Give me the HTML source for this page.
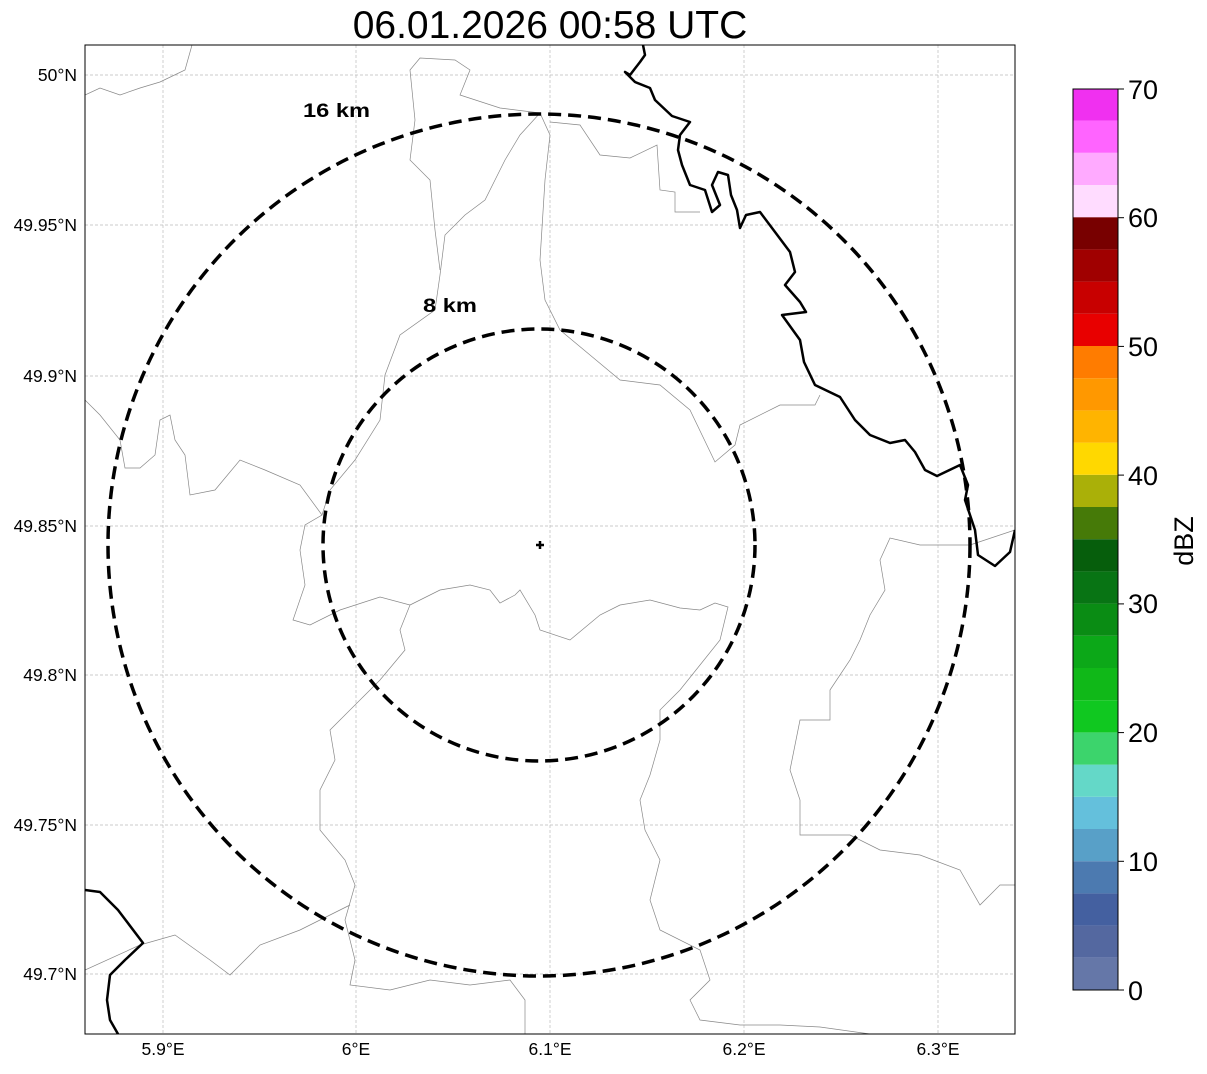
<!DOCTYPE html>
<html><head><meta charset="utf-8"><style>
body{margin:0;background:#fff;width:1207px;height:1069px;overflow:hidden;font-family:"Liberation Sans",sans-serif}
</style></head><body>
<svg width="1207" height="1069" xmlns="http://www.w3.org/2000/svg" font-family="Liberation Sans, sans-serif">
<text x="550" y="38" font-size="39" text-anchor="middle">06.01.2026 00:58 UTC</text>
<defs><clipPath id="c"><rect x="85" y="45" width="930" height="989"/></clipPath></defs>
<g stroke="#bbb" stroke-width="0.7" stroke-dasharray="3,2">
<line x1="163" y1="45" x2="163" y2="1034"/><line x1="356" y1="45" x2="356" y2="1034"/><line x1="550" y1="45" x2="550" y2="1034"/><line x1="744" y1="45" x2="744" y2="1034"/><line x1="938" y1="45" x2="938" y2="1034"/>
<line x1="85" y1="75" x2="1015" y2="75"/><line x1="85" y1="225" x2="1015" y2="225"/><line x1="85" y1="376" x2="1015" y2="376"/><line x1="85" y1="526" x2="1015" y2="526"/><line x1="85" y1="675" x2="1015" y2="675"/><line x1="85" y1="825" x2="1015" y2="825"/><line x1="85" y1="974" x2="1015" y2="974"/>
</g>
<g clip-path="url(#c)" fill="none">
<g stroke="#888" stroke-width="0.7">
<polyline points="85,95 100,88 120,95 140,88 160,82 185,70 192,45"/>
<polyline points="85,400 100,415 120,440 125,468 140,468 155,455 160,420 170,415 175,440 185,455 190,495 215,490 240,460 265,470 300,485 322,515 305,525 300,550 305,585 293,620 310,625 340,610 380,597 410,605 400,630 405,650 380,680 345,715 330,730 335,760 320,790 320,830 345,860 355,885 345,920 355,960 350,985 390,990 430,980 470,985 510,980 525,1000 525,1034"/>
<polyline points="410,605 440,590 470,585 490,590 500,603 515,595 520,590 535,615 540,630 570,640 600,615 620,605 650,600 680,608 700,610 715,603 728,607 720,640 700,665 680,690 660,710 660,740 650,775 640,800 645,830 660,860 650,900 660,930 700,950 710,980 690,1000 700,1020 740,1025 780,1025 820,1027 870,1034"/>
<polyline points="540,113 550,135 545,180 540,260 545,300 560,330 590,355 620,380 660,385 690,410 715,462 735,445 740,425 780,405 815,405 820,395"/>
<polyline points="540,113 520,135 505,160 485,200 465,215 445,235 440,275 435,310 400,335 385,375 380,420 355,460 330,490 322,515"/>
<polyline points="540,113 500,108 460,95 470,70 455,60 420,58 410,70 415,120 410,160 430,180 435,230 440,270"/>
<polyline points="550,122 580,125 600,155 630,158 657,145 660,190 675,192 675,212 700,212"/>
<polyline points="1015,530 970,545 920,545 890,538 880,560 885,590 870,615 860,640 850,660 830,690 830,720 800,720 790,770 800,800 800,835 850,835 880,850 920,855 960,870 980,905 1000,885 1015,885"/>
<polyline points="85,970 140,945 175,935 210,960 230,975 260,945 300,930 330,915 350,905"/>
</g>
<g stroke="#000" stroke-width="2.5" stroke-linejoin="round">
<polyline points="643,45 645,55 640,62 630,75 625,72 635,82 650,88 655,100 672,116 690,122 680,135 678,150 682,165 690,185 705,190 712,212 720,205 712,185 718,172 728,175 731,195 737,210 740,228 746,215 760,212 775,232 790,252 795,272 785,285 800,302 806,312 782,315 800,340 804,362 815,385 840,397 855,420 870,435 890,443 905,440 915,452 925,470 937,476 960,465 968,485 965,500 975,530 978,555 995,566 1010,552 1015,530"/>
<polyline points="85,890 100,892 118,910 143,943 125,960 110,975 107,1000 110,1020 118,1034"/>
</g>
<g stroke="#000" stroke-width="3.5" stroke-dasharray="13,7">
<circle cx="539" cy="545" r="431"/>
<circle cx="539" cy="545" r="216"/>
</g>
</g>
<path d="M536,545h8M540,541v8" stroke="#000" stroke-width="2.5"/>
<text x="303" y="117" font-size="19" font-weight="bold" textLength="67" lengthAdjust="spacingAndGlyphs">16 km</text>
<text x="423" y="312" font-size="19" font-weight="bold" textLength="54" lengthAdjust="spacingAndGlyphs">8 km</text>
<rect x="85" y="45" width="930" height="989" fill="none" stroke="#000" stroke-width="1"/>
<g font-size="17.5" text-anchor="end">
<text x="77" y="81">50°N</text><text x="77" y="231">49.95°N</text><text x="77" y="382">49.9°N</text><text x="77" y="532">49.85°N</text><text x="77" y="681">49.8°N</text><text x="77" y="831">49.75°N</text><text x="77" y="980">49.7°N</text>
</g>
<g font-size="17.5" text-anchor="middle">
<text x="163" y="1055">5.9°E</text><text x="356" y="1055">6°E</text><text x="550" y="1055">6.1°E</text><text x="744" y="1055">6.2°E</text><text x="938" y="1055">6.3°E</text>
</g>
<g>
<rect x="1073" y="957.8" width="45" height="32.2" fill="#6577a8"/>
<rect x="1073" y="925.6" width="45" height="32.2" fill="#5468a0"/>
<rect x="1073" y="893.4" width="45" height="32.2" fill="#4460a0"/>
<rect x="1073" y="861.2" width="45" height="32.2" fill="#4c7ab0"/>
<rect x="1073" y="829" width="45" height="32.2" fill="#58a0c8"/>
<rect x="1073" y="796.8" width="45" height="32.2" fill="#64c0dc"/>
<rect x="1073" y="764.6" width="45" height="32.2" fill="#64d8c8"/>
<rect x="1073" y="732.4" width="45" height="32.2" fill="#3cd46c"/>
<rect x="1073" y="700.2" width="45" height="32.2" fill="#10c820"/>
<rect x="1073" y="668" width="45" height="32.2" fill="#10b818"/>
<rect x="1073" y="635.8" width="45" height="32.2" fill="#0ca818"/>
<rect x="1073" y="603.6" width="45" height="32.2" fill="#0a8c14"/>
<rect x="1073" y="571.4" width="45" height="32.2" fill="#087414"/>
<rect x="1073" y="539.2" width="45" height="32.2" fill="#065e0c"/>
<rect x="1073" y="507" width="45" height="32.2" fill="#467a08"/>
<rect x="1073" y="474.8" width="45" height="32.2" fill="#aab008"/>
<rect x="1073" y="442.6" width="45" height="32.2" fill="#ffd800"/>
<rect x="1073" y="410.4" width="45" height="32.2" fill="#ffb400"/>
<rect x="1073" y="378.2" width="45" height="32.2" fill="#ff9800"/>
<rect x="1073" y="346" width="45" height="32.2" fill="#ff7c00"/>
<rect x="1073" y="313.8" width="45" height="32.2" fill="#e80000"/>
<rect x="1073" y="281.6" width="45" height="32.2" fill="#c80000"/>
<rect x="1073" y="249.4" width="45" height="32.2" fill="#a00000"/>
<rect x="1073" y="217.2" width="45" height="32.2" fill="#780000"/>
<rect x="1073" y="185" width="45" height="32.2" fill="#ffdcff"/>
<rect x="1073" y="152.8" width="45" height="32.2" fill="#ffaaff"/>
<rect x="1073" y="120.6" width="45" height="32.2" fill="#ff64ff"/>
<rect x="1073" y="89" width="45" height="31.6" fill="#f030f0"/>
</g>
<rect x="1073" y="89" width="45" height="901" fill="none" stroke="#000" stroke-width="1"/>
<g stroke="#000"><line x1="1118" y1="990" x2="1124" y2="990"/><line x1="1118" y1="861.3" x2="1124" y2="861.3"/><line x1="1118" y1="732.6" x2="1124" y2="732.6"/><line x1="1118" y1="603.9" x2="1124" y2="603.9"/><line x1="1118" y1="475.1" x2="1124" y2="475.1"/><line x1="1118" y1="346.4" x2="1124" y2="346.4"/><line x1="1118" y1="217.7" x2="1124" y2="217.7"/><line x1="1118" y1="89" x2="1124" y2="89"/></g>
<g font-size="27">
<text x="1128" y="1000">0</text><text x="1128" y="871">10</text><text x="1128" y="742">20</text><text x="1128" y="613">30</text><text x="1128" y="485">40</text><text x="1128" y="356">50</text><text x="1128" y="227">60</text><text x="1128" y="99">70</text>
</g>
<text transform="translate(1193,541) rotate(-90)" font-size="27" text-anchor="middle">dBZ</text>
</svg>
</body></html>
